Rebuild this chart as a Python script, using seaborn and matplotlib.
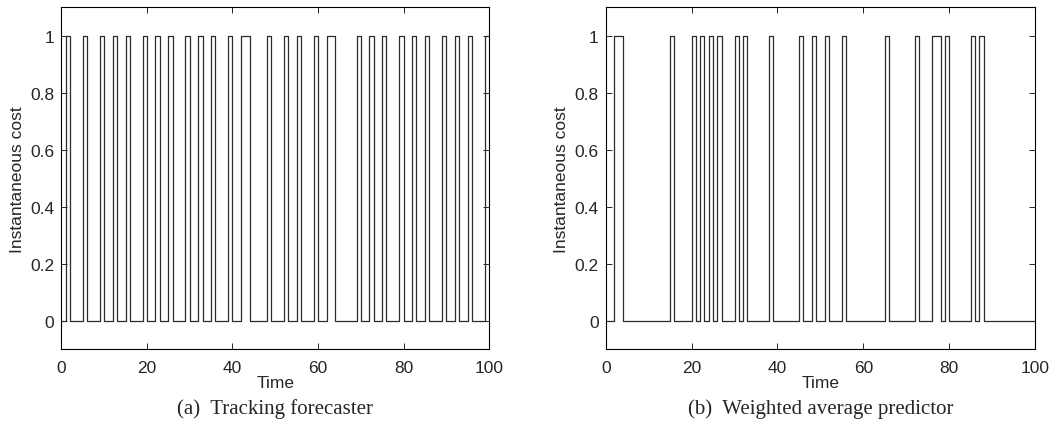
import numpy as np
import pandas as pd
import seaborn as sns
from matplotlib import pyplot as plt

# time steps where the instantaneous cost is 1 (cost holds over [t, t+1])
tracking_ones = [1, 5, 9, 12, 15, 19, 22, 25, 29, 32, 35, 39, 42, 43, 48, 52, 55,
                 59, 62, 63, 69, 72, 75, 79, 82, 85, 89, 92, 95, 99]
weighted_ones = [2, 3, 15, 20, 22, 24, 26, 30, 32, 38, 45, 48, 51, 55, 65, 72,
                 76, 77, 79, 85, 87]
captions = ["(a)  Tracking forecaster", "(b)  Weighted average predictor"]
yticks = [0, 0.2, 0.4, 0.6, 0.8, 1]
yticklabels = ["0", "0.2", "0.4", "0.6", "0.8", "1"]
n_steps = 100


def make_df(ones):
    cost = np.zeros(n_steps + 1)
    cost[ones] = 1
    cost[-1] = cost[-2]  # repeat last value so the final step reaches t=100
    return pd.DataFrame({"Time": np.arange(n_steps + 1), "cost": cost})


sns.set_style("white")
plt.rcParams["font.family"] = ["Liberation Sans", "DejaVu Sans"]

fig = plt.figure(figsize=(10.58, 4.39), dpi=100)
ax1 = fig.add_axes([0.058, 0.2027, 0.4043, 0.778])
ax2 = fig.add_axes([0.5725, 0.2027, 0.4058, 0.778])

for ax, ones, cap in zip([ax1, ax2], [tracking_ones, weighted_ones], captions):
    df = make_df(ones)
    sns.lineplot(data=df, x="Time", y="cost", ax=ax, drawstyle="steps-post",
                 color="#2b2b2b", linewidth=0.9, estimator=None)
    ax.set_xlim(0, 100)
    ax.set_ylim(-0.1, 1.1)
    ax.set_xticks([0, 20, 40, 60, 80, 100])
    ax.set_yticks(yticks)
    ax.set_yticklabels(yticklabels)
    ax.tick_params(direction="in", length=4, width=0.7, labelsize=12.5,
                   top=True, right=True, bottom=True, left=True, pad=5)
    ax.tick_params(axis="x", pad=8)
    ax.set_xlabel("Time", fontsize=12.5, labelpad=0)
    ax.set_ylabel("Instantaneous cost", fontsize=12.5, labelpad=4)
    for s in ax.spines.values():
        s.set_color("black")
        s.set_linewidth(0.8)
        s.set_visible(True)
    pos = ax.get_position()
    fig.text(pos.x0 + pos.width / 2, 0.068, cap, ha="center", va="center",
             fontsize=15, family=["Liberation Serif", "DejaVu Serif"])

fig.savefig("out.png", dpi=100)
